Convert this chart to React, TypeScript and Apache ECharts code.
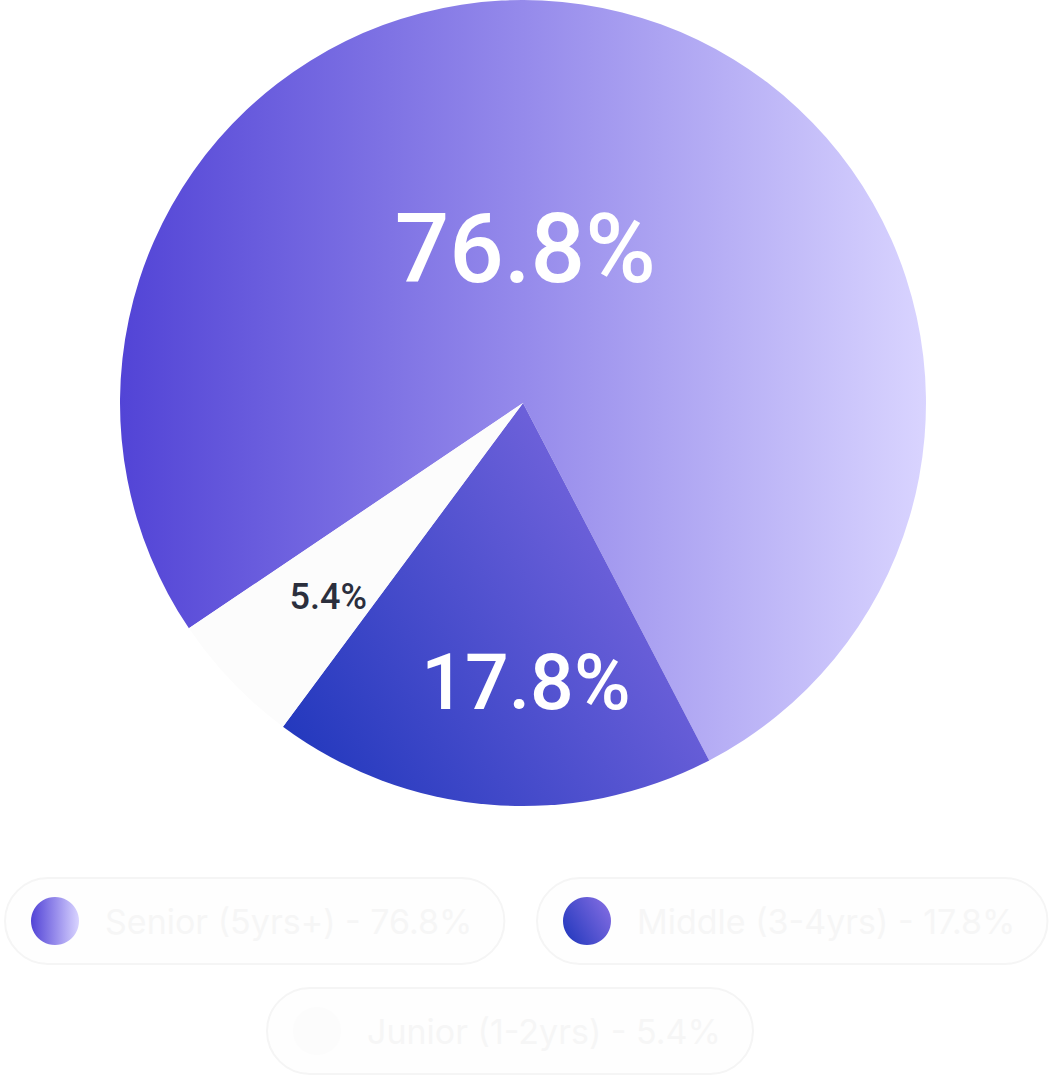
import React, { useEffect, useRef } from "react";
import * as echarts from "echarts";

const categories = ["Senior (5yrs+)", "Middle (3-4yrs)", "Junior (1-2yrs)"];
const values = [76.8, 17.8, 5.4];
const labelSizes = [96, 77, 36];
const labelColors = ["#ffffff", "#ffffff", "#2b2f3d"];
const labelOffsets = [[-48, 44], [19, 76], [-47, 53]];

export default function App() {
  const ref = useRef<HTMLDivElement>(null);
  useEffect(() => {
    document.body.style.margin = "0";
    const chart = echarts.init(ref.current!, null, { renderer: "svg" });
    const colors = [
      new echarts.graphic.LinearGradient(0, 0, 1, 0, [
        { offset: 0, color: "#5244d6" },
        { offset: 0.5, color: "#958aeb" },
        { offset: 1, color: "#d9d4ff" },
      ]),
      new echarts.graphic.LinearGradient(0, 0.85, 1, 0.25, [
        { offset: 0, color: "#2238bd" },
        { offset: 1, color: "#806be1" },
      ]),
      "#fcfcfc",
    ];
    const data = categories.map((name, i) => ({
      name,
      value: values[i],
      itemStyle: { color: colors[i] },
      label: {
        fontSize: labelSizes[i],
        color: labelColors[i],
        offset: labelOffsets[i],
      },
    }));
    const legendBase = {
      orient: "horizontal",
      icon: "circle",
      itemWidth: 48,
      itemHeight: 48,
      padding: [19, 32, 19, 26],
      borderColor: "#f5f5f5",
      borderWidth: 2,
      borderRadius: 44,
      backgroundColor: "#fefefe",
      selectedMode: false,
      formatter: (name: string) => {
        const i = categories.indexOf(name);
        return `${name} - ${values[i]}%`;
      },
      textStyle: {
        color: "#f6f6f6",
        fontSize: 34,
        fontFamily: "Inter, Roboto, sans-serif",
        padding: [0, 0, 0, 21],
      },
    };
    chart.setOption({
      animation: false,
      backgroundColor: "#ffffff",
      legend: [
        { ...legendBase, data: [categories[0]], left: 5, top: 878 },
        { ...legendBase, data: [categories[1]], left: 537, top: 878 },
        { ...legendBase, data: [categories[2]], left: 267, top: 988 },
      ],
      series: [
        {
          type: "pie",
          center: [523, 403],
          radius: [0, 403],
          startAngle: 214,
          clockwise: true,
          silent: true,
          data,
          label: {
            show: true,
            position: "inside",
            fontFamily: "Roboto, sans-serif",
            fontWeight: 500,
            formatter: (p: any) => `${p.value}%`,
          },
          labelLine: { show: false },
          emphasis: { disabled: true },
        },
      ],
    });
    return () => chart.dispose();
  }, []);
  return <div ref={ref} style={{ width: 1050, height: 1077 }} />;
}
